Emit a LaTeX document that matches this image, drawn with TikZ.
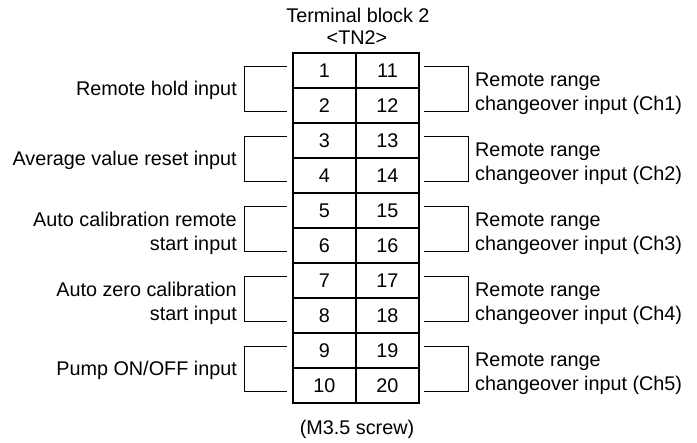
\documentclass[tikz,border=0pt]{standalone}
\usepackage{fontspec}
\setmainfont{Liberation Sans}
\usetikzlibrary{calc}
\begin{document}
\begin{tikzpicture}[x=1pt,y=-1pt,
  cell/.style={draw, line width=1.2pt, minimum width=63pt, minimum height=35pt, inner sep=0pt, font=\fontsize{19.8}{24}\selectfont},
  lbl/.style={inner sep=0pt, font=\fontsize{19.8}{24}\selectfont},
  lleft/.style={lbl, anchor=base east, align=right},
  lright/.style={lbl, anchor=base west, align=left},
  wire/.style={line width=1.2pt}]
\useasboundingbox (0,0) rectangle (697,443);
\foreach \i in {1,...,10} {
  \pgfmathtruncatemacro\j{\i+10}
  \node[cell] (c\i) at (324.5, {53+35*(\i-1)+17.5}) {\i};
  \node[cell] (c\j) at (387.5, {53+35*(\i-1)+17.5}) {\j};
}
\foreach \k in {1,...,5} {
  \pgfmathtruncatemacro\o{2*\k-1}
  \pgfmathtruncatemacro\e{2*\k}
  \pgfmathtruncatemacro\oo{2*\k+9}
  \pgfmathtruncatemacro\ee{2*\k+10}
  \draw[wire] ($(c\o.west)+(-5,-4)$) -- ++(-43,0) |- ($(c\e.west)+(-5,6)$);
  \draw[wire] ($(c\oo.east)+(4,-4)$) -- ++(45,0) |- ($(c\ee.east)+(4,6)$);
}
\node[lbl, anchor=base] (t1) at (358,23) {Terminal block 2};
\node[lbl, anchor=base] (t2) at (357,45) {<TN2>};
\node[lbl, anchor=base] (t3) at (357,435) {(M3.5 screw)};
\node[lleft] (l1) at (237,96) {Remote hold input};
\node[lleft] (l2) at (237,166) {Average value reset input};
\node[lleft] (l3) at (237,251) {Auto calibration remote\\start input};
\node[lleft] (l4) at (237,321) {Auto zero calibration\\start input};
\node[lleft] (l5) at (237,376) {Pump ON/OFF input};
\node[lright] (r1) at (475,111) {Remote range\\changeover input (Ch1)};
\node[lright] (r2) at (475,181) {Remote range\\changeover input (Ch2)};
\node[lright] (r3) at (475,251) {Remote range\\changeover input (Ch3)};
\node[lright] (r4) at (475,321) {Remote range\\changeover input (Ch4)};
\node[lright] (r5) at (475,391) {Remote range\\changeover input (Ch5)};
\end{tikzpicture}
\end{document}
